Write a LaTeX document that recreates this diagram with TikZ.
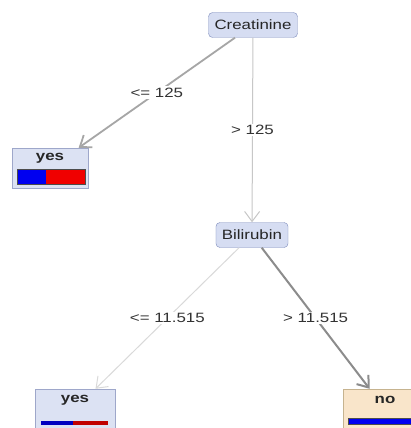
\documentclass[tikz,border=0pt]{standalone}
\usepackage{fontspec}
\setmainfont{Liberation Sans}[FakeStretch=1.25]
\usepackage{xcolor}
\usetikzlibrary{arrows.meta,calc}

\definecolor{splitfill}{HTML}{D6DDF2}
\definecolor{splitdraw}{HTML}{7D8BBC}
\definecolor{leaffill}{HTML}{DCE2F3}
\definecolor{leafdraw}{HTML}{9EA7CA}
\definecolor{nofill}{HTML}{F9E5CA}
\definecolor{nodraw}{HTML}{C6B38F}
\definecolor{barblue}{HTML}{0000F0}
\definecolor{barred}{HTML}{F00000}

\begin{document}
\begin{tikzpicture}[
  x=1pt, y=-1pt,
  font=\fontsize{13.5}{15}\selectfont,
  split/.style={draw=splitdraw, fill=splitfill, rounded corners=4pt, inner xsep=6pt, minimum height=25pt, text=black!85},
  leaf/.style={draw=leafdraw, fill=leaffill, minimum width=#1, minimum height=40pt, inner sep=0pt},
  leaftxt/.style={font=\fontsize{13.5}{15}\selectfont\bfseries, inner sep=0pt, text=black!85},
  arr/.style={-{Straight Barb[length=10pt,width=15pt]}, line width=#1},
  lbl/.style={fill=white, inner sep=1.5pt, text=black!80}
]
  \clip (0,0) rectangle (411,428);
  \fill[white] (0,0) rectangle (411,428);

  \node[split] (crea) at (253,25) {Creatinine};
  \node[split] (bili) at (252,235) {Bilirubin};
  \node[leaf=76pt] (yes1) at (50,168) {};
  \node[leaf=80pt] (yes2) at (75,409) {};
  \node[leaf=84pt, draw=nodraw, fill=nofill] (no) at (385,409) {};

  % leaf texts
  \node[leaftxt] at ($(yes1.north)+(0,10)$) {yes};
  \node[leaftxt] at ($(yes2.north)+(0,11)$) {yes};
  \node[leaftxt] at ($(no.north)+(0,11)$) {no};

  % class bars
  \fill[barblue] ($(yes1.south west)+(5,-4)$) rectangle ($(yes1.south west)+(34,-19)$);
  \fill[barred] ($(yes1.south west)+(34,-4)$) rectangle ($(yes1.south west)+(73,-19)$);
  \draw[black!70, line width=0.6pt] ($(yes1.south west)+(5,-4)$) rectangle ($(yes1.south west)+(73,-19)$);
  \fill[barblue!80!black] ($(yes2.north west)+(6,32)$) rectangle ($(yes2.north west)+(38,36)$);
  \fill[barred!80!black] ($(yes2.north west)+(38,32)$) rectangle ($(yes2.north west)+(73,36)$);
  \fill[barblue] ($(no.north west)+(5,29)$) rectangle ($(no.north west)+(80,35)$);
  \draw[black!70, line width=0.6pt] ($(no.north west)+(5,29)$) rectangle ($(no.north west)+(80,35)$);

  \draw[arr=1.8pt, black!35] (crea) -- node[lbl]{<= 125} (yes1);
  \draw[arr=1pt, black!22] (crea) -- node[lbl]{> 125} (bili);
  \draw[arr=1pt, black!15] (bili) -- node[lbl]{<= 11.515} (yes2);
  \draw[arr=2pt, black!45] (bili) -- node[lbl]{> 11.515} (no);
\end{tikzpicture}
\end{document}
